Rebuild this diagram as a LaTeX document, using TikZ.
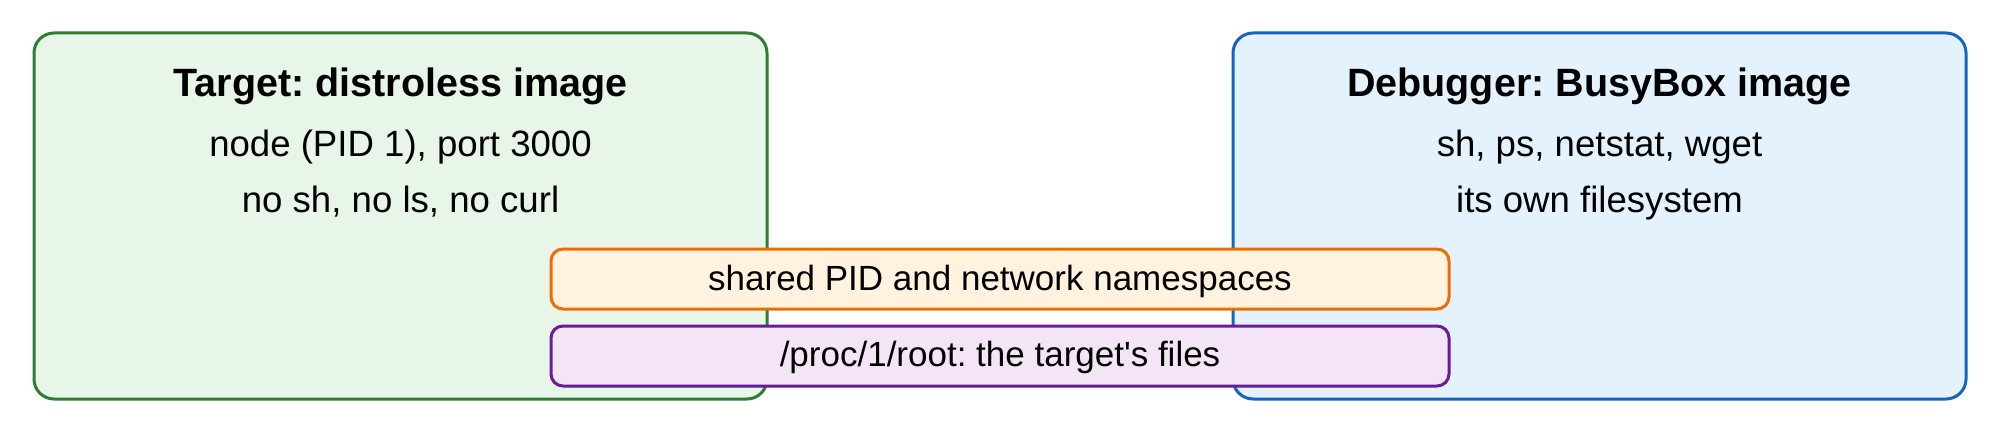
\documentclass[tikz,border=0pt]{standalone}
\usepackage{fontspec}
\setmainfont{Liberation Sans}[Ligatures=TeXOff]
\frenchspacing
\definecolor{tgfill}{HTML}{E8F5E9}
\definecolor{tgline}{HTML}{2E7D32}
\definecolor{dbfill}{HTML}{E3F2FD}
\definecolor{dbline}{HTML}{1565C0}
\definecolor{shfill}{HTML}{FFF3E0}
\definecolor{shline}{HTML}{EF6C00}
\definecolor{prfill}{HTML}{F3E5F5}
\definecolor{prline}{HTML}{6A1B9A}
\tikzset{
  bigbox/.style={line width=1.5pt, rounded corners=10pt},
  barbox/.style={line width=1.5pt, rounded corners=6pt},
  titletext/.style={anchor=base, inner sep=0pt, font=\fontsize{19.75pt}{22pt}\selectfont\bfseries},
  bodytext/.style={anchor=base, inner sep=0pt, font=\fontsize{18.3pt}{21pt}\selectfont},
  bartext/.style={anchor=base, inner sep=0pt, font=\fontsize{17.5pt}{20pt}\selectfont},
}
\begin{document}
\frenchspacing
\begin{tikzpicture}[x=0.5pt,y=-0.5pt]
\useasboundingbox (0,0) rectangle (2000,433);
\fill[white] (0,0) rectangle (2000,433);
% target box
\draw[bigbox, draw=tgline, fill=tgfill] (34,33) rectangle (767,399);
\node[titletext] (tt) at (400.5,96.7) {Target: distroless image};
\node[bodytext] (t1) at (400.5,156.7) {node (PID 1), port 3000};
\node[bodytext] (t2) at (400.5,212) {no sh, no ls, no curl};
% debugger box
\draw[bigbox, draw=dbline, fill=dbfill] (1233,33) rectangle (1966,399);
\node[titletext] (dt) at (1599.5,96.7) {Debugger: BusyBox image};
\node[bodytext] (d1) at (1599.5,156.7) {sh, ps, netstat, wget};
\node[bodytext] (d2) at (1599.5,212) {its own filesystem};
% shared bars
\draw[barbox, draw=shline, fill=shfill] (551,249) rectangle (1449,309);
\node[bartext] (sh) at (1000,290.7) {shared PID and network namespaces};
\draw[barbox, draw=prline, fill=prfill] (551,326) rectangle (1449,386);
\node[bartext] (pr) at (1000,366.7) {/proc/1/root: the target\textquotesingle s files};
\end{tikzpicture}
\end{document}
